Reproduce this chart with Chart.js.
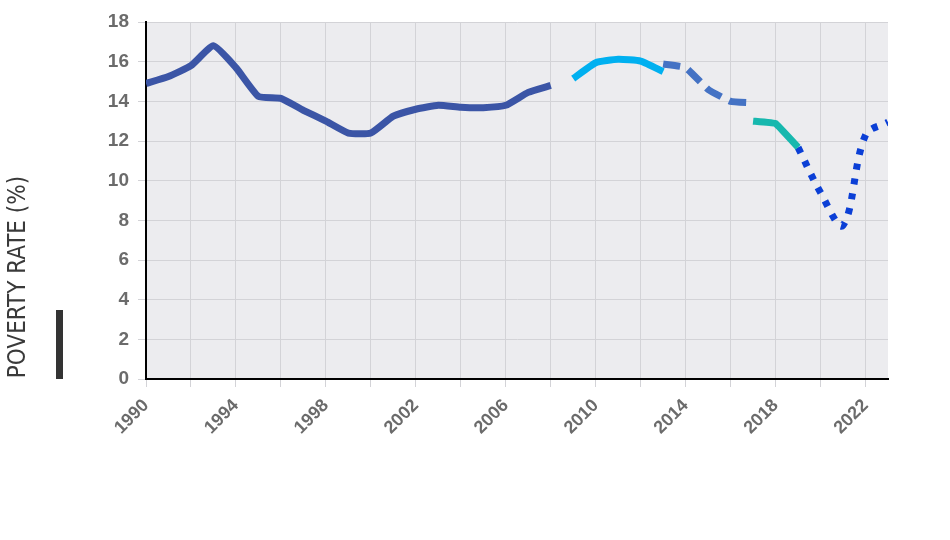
<!DOCTYPE html>
<html>
<head>
<meta charset="utf-8">
<script src="https://cdn.jsdelivr.net/npm/chart.js@4.4.0/dist/chart.umd.min.js"></script>
<style>
  html, body { margin: 0; padding: 0; background: #fff; }
  #wrap { width: 950px; height: 540px; }
</style>
</head>
<body>
<div id="wrap"><canvas id="poverty-chart" width="950" height="540"></canvas></div>
<script>
// values
const years1 = [1990, 1991, 1992, 1993, 1994, 1995, 1996, 1997, 1998, 1999, 2000, 2001, 2002, 2003, 2004, 2005, 2006, 2007, 2008];
const rate1  = [14.9, 15.25, 15.8, 16.8, 15.7, 14.25, 14.15, 13.55, 13.0, 12.4, 12.4, 13.25, 13.6, 13.8, 13.7, 13.68, 13.8, 14.45, 14.8];
const years2 = [2009, 2010, 2011, 2012, 2013];
const rate2  = [15.15, 15.95, 16.12, 16.03, 15.5];
const years3 = [2013, 2014, 2015, 2016, 2017];
const rate3  = [15.88, 15.7, 14.6, 14.0, 13.93];
const years4 = [2017, 2018, 2019];
const rate4  = [13.0, 12.88, 11.68];
const years5 = [2019, 2020, 2021, 2022, 2023];
const rate5  = [11.68, 9.4, 7.75, 12.3, 12.95];

const yTicks = [0, 2, 4, 6, 8, 10, 12, 14, 16, 18];

const pts = (xs, ys) => xs.map((x, i) => ({ x: x, y: ys[i] }));

const plotBg = {
    id: 'plotBg',
    beforeDraw(chart) {
        const a = chart.chartArea, ctx = chart.ctx;
        ctx.save();
        ctx.fillStyle = '#ececef';
        ctx.fillRect(a.left, a.top, a.right - a.left, a.bottom - a.top);
        ctx.restore();
    }
};

// rotated axis title + small dark bar on the left
const sideTitle = {
    id: 'sideTitle',
    afterDraw(chart) {
        const a = chart.chartArea, ctx = chart.ctx;
        ctx.save();
        ctx.fillStyle = '#333';
        ctx.fillRect(56, a.bottom - 69, 7, 69);
        ctx.translate(25, a.bottom - 102);
        ctx.rotate(-Math.PI / 2);
        ctx.font = '24px "Liberation Sans Narrow", "DejaVu Sans Condensed", sans-serif';
        ctx.fillStyle = '#3a3a3a';
        ctx.textAlign = 'center';
        ctx.textBaseline = 'alphabetic';
        ctx.fillText('POVERTY RATE (%)', 0, 0);
        ctx.restore();
    }
};

const common = {
    pointRadius: 0,
    borderWidth: 7,
    borderJoinStyle: 'round',
    borderCapStyle: 'butt',
    fill: false
};

const canvas = document.querySelector('#poverty-chart');
const chart = new Chart(canvas, {
    type: 'line',
    data: {
        datasets: [
            Object.assign({ data: pts(years1, rate1), borderColor: '#3b55a6', tension: 0.15 }, common),
            Object.assign({ data: pts(years2, rate2), borderColor: '#00b0f0', tension: 0.15 }, common),
            Object.assign({ data: pts(years3, rate3), borderColor: '#4472c4', tension: 0.1, borderDash: [17, 9] }, common),
            Object.assign({ data: pts(years4, rate4), borderColor: '#17b8ae', tension: 0.05 }, common),
            Object.assign({ data: pts(years5, rate5), borderColor: '#0b3fd6', tension: 0.35, borderDash: [6, 9] }, common)
        ]
    },
    options: {
        responsive: false,
        animation: false,
        devicePixelRatio: 1,
        layout: { padding: { top: 22, right: 62, left: 0, bottom: 0 } },
        plugins: {
            legend: { display: false },
            tooltip: { enabled: false }
        },
        scales: {
            x: {
                type: 'linear',
                min: 1990,
                max: 2023,
                afterFit(scale) { scale.height = 161; },
                border: { display: true, color: '#000', width: 2 },
                grid: { color: '#d3d3d7', lineWidth: 1, tickLength: 8 },
                ticks: {
                    stepSize: 2,
                    includeBounds: false,
                    autoSkip: false,
                    maxRotation: 45,
                    minRotation: 45,
                    padding: 8,
                    color: '#6b6b6b',
                    font: { family: '"Liberation Sans", Arial, sans-serif', size: 18, weight: 'bold' },
                    callback: v => ((v - 1990) % 4 === 0 ? String(v) : '')
                }
            },
            y: {
                min: 0,
                max: 18,
                afterFit(scale) { scale.width = 146; },
                afterBuildTicks(scale) { scale.ticks = yTicks.map(v => ({ value: v })); },
                border: { display: true, color: '#000', width: 2 },
                grid: { color: '#d3d3d7', lineWidth: 1, tickLength: 8 },
                ticks: {
                    padding: 9,
                    color: '#6b6b6b',
                    font: { family: '"Liberation Sans", Arial, sans-serif', size: 19, weight: 'bold' }
                }
            }
        }
    },
    plugins: [plotBg, sideTitle]
});
</script>
</body>
</html>
